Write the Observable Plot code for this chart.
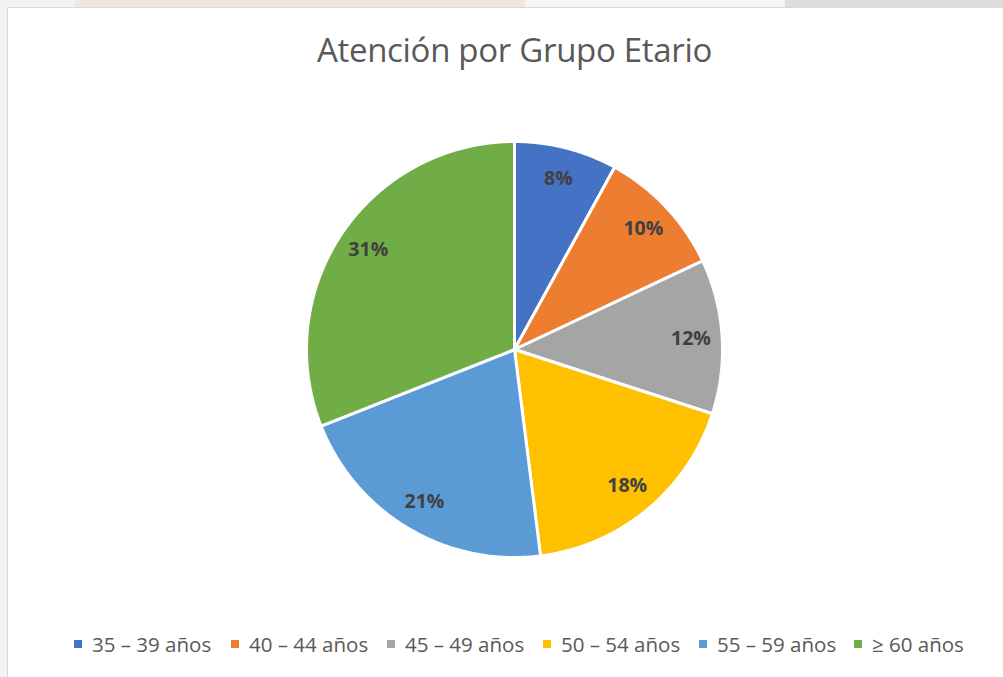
<!DOCTYPE html>
<html>
<head>
<meta charset="utf-8">
<script src="https://cdn.jsdelivr.net/npm/d3@7"></script>
<script src="https://cdn.jsdelivr.net/npm/@observablehq/plot@0.6"></script>
<style>
  html, body { margin: 0; padding: 0; }
  body { width: 1003px; height: 677px; position: relative; overflow: hidden; background: #f3f3f3; font-family: "Open Sans", sans-serif; }
  .strip { position: absolute; top: 0; height: 7px; }
  #frame { position: absolute; left: 7px; top: 7px; width: 996px; height: 670px; background: #ffffff; border-left: 1px solid #d9d9d9; border-top: 1px solid #d9d9d9; box-sizing: border-box; }
  #title { position: absolute; left: 0; top: 27px; width: 1003px; text-align: center; font-size: 33px; color: #595959; letter-spacing: -0.3px; padding-left: 26px; box-sizing: border-box; }
  #chart { position: absolute; left: 0; top: 120px; }
  #legend { position: absolute; left: 0; top: 630px; width: 1003px; height: 30px; }
  .item { position: absolute; top: 0; display: flex; align-items: center; height: 28px; font-size: 20.5px; color: #595959; white-space: nowrap; }
  .sw { width: 8px; height: 8px; margin-right: 10px; }
</style>
</head>
<body>
<div class="strip" style="left:0;width:75px;background:#f3f3f3"></div>
<div class="strip" style="left:75px;width:450px;background:#f3e4e1"></div>
<div class="strip" style="left:525px;width:260px;background:#f4f4f4"></div>
<div class="strip" style="left:785px;width:218px;background:#dedede"></div>
<div id="frame"></div>
<div id="title">Atención por Grupo Etario</div>
<div id="chart"></div>
<div id="legend"></div>
<script>
const categories = ["35 – 39 años", "40 – 44 años", "45 – 49 años", "50 – 54 años", "55 – 59 años", "≥ 60 años"];
const values = [8, 10, 12, 18, 21, 31];
const labels = ["8%", "10%", "12%", "18%", "21%", "31%"];
const colors = ["#4472C4", "#ED7D31", "#A5A5A5", "#FFC000", "#5B9BD5", "#70AD47"];

const arcs = d3.pie().sort(null).value(d => d)(values);

// slice outlines in unit-circle coordinates (angle 0 at top, clockwise)
const slicePts = [];
arcs.forEach((a, i) => {
  const g = categories[i];
  slicePts.push({g, x: 0, y: 0});
  const n = Math.max(8, Math.ceil((a.endAngle - a.startAngle) / 0.01));
  for (let k = 0; k <= n; k++) {
    const t = a.startAngle + (a.endAngle - a.startAngle) * k / n;
    slicePts.push({g, x: Math.sin(t), y: Math.cos(t)});
  }
  slicePts.push({g, x: 0, y: 0});
});

const labelR = 0.85;
const labelPts = arcs.map((a, i) => {
  const m = (a.startAngle + a.endAngle) / 2;
  return {g: categories[i], x: labelR * Math.sin(m), y: labelR * Math.cos(m), t: labels[i]};
});

const plot = Plot.plot({
  width: 1003,
  height: 450,
  margin: 0,
  x: {domain: [-1, 1], range: [306, 722], axis: null},
  y: {domain: [-1, 1], range: [437, 21], axis: null},
  color: {type: "ordinal", domain: categories, range: colors},
  style: {background: "transparent", overflow: "visible"},
  marks: [
    Plot.line(slicePts, {x: "x", y: "y", z: "g", fill: "g", stroke: "white", strokeWidth: 3, strokeLinejoin: "miter"}),
    Plot.text(labelPts, {x: "x", y: "y", text: "t", fill: "#404040", fontSize: 19.5, fontWeight: "bold", fontFamily: "Open Sans"})
  ]
});
document.getElementById("chart").appendChild(plot);

const legend = document.getElementById("legend");
const lefts = [74, 231, 387, 543, 699, 854];
categories.forEach((c, i) => {
  const it = document.createElement("div");
  it.className = "item";
  it.style.left = lefts[i] + "px";
  const sw = document.createElement("span");
  sw.className = "sw";
  sw.style.background = colors[i];
  const tx = document.createElement("span");
  tx.textContent = c;
  it.appendChild(sw);
  it.appendChild(tx);
  legend.appendChild(it);
});
</script>
</body>
</html>
